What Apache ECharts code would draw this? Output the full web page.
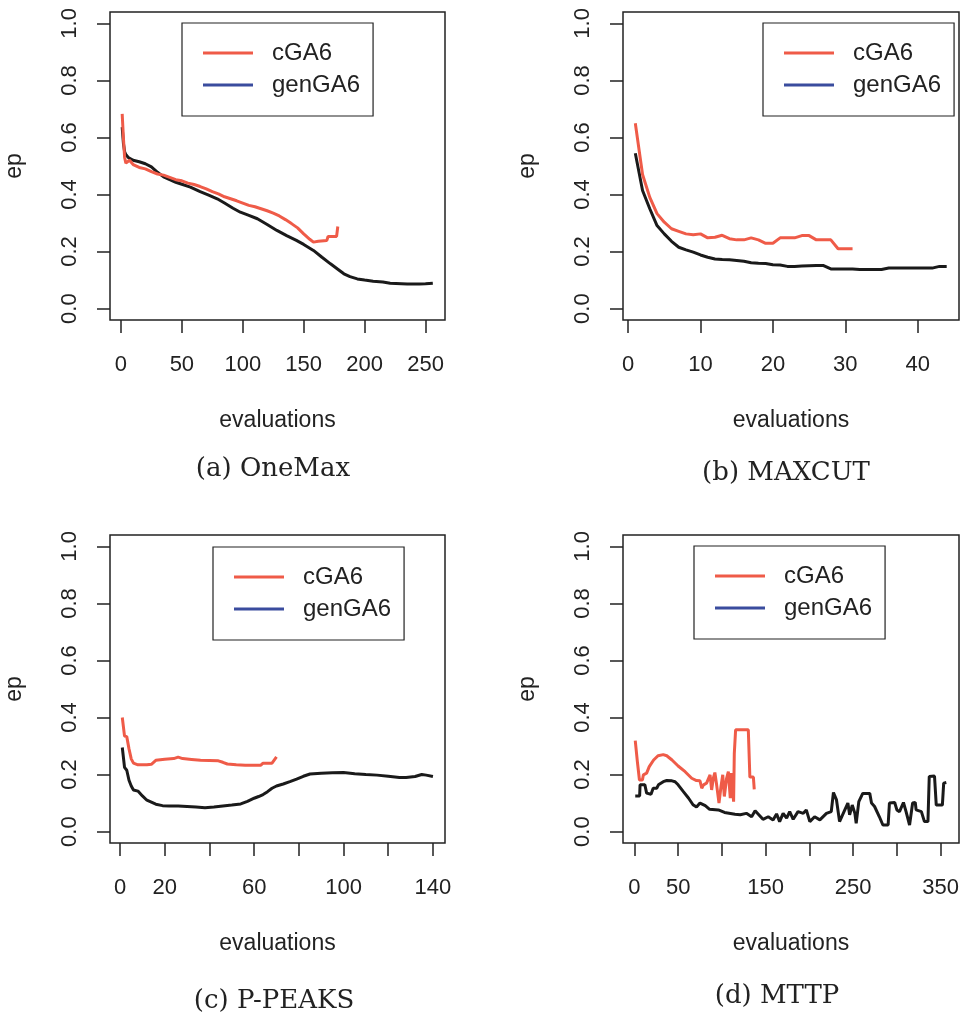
<!DOCTYPE html>
<html>
<head>
<meta charset="utf-8">
<script src="https://cdn.jsdelivr.net/npm/echarts@6/dist/echarts.min.js"></script>
<style>
  body { margin: 0; background: #fff; }
  #main { width: 962px; height: 1016px; }
</style>
</head>
<body>
<div id="main"></div>
<script>
// (a) OneMax, [evaluations, ep]
var oneMaxC = [[1,0.683],[2,0.60],[3,0.53],[4,0.51],[5,0.505],[7,0.52],[10,0.505],[15,0.495],[20,0.49],[25,0.48],[30,0.472],[35,0.468],[40,0.46],[45,0.452],[50,0.448],[55,0.44],[60,0.435],[65,0.428],[70,0.42],[75,0.41],[80,0.402],[85,0.392],[90,0.385],[95,0.378],[100,0.37],[105,0.362],[110,0.357],[115,0.35],[120,0.343],[125,0.335],[130,0.325],[135,0.312],[140,0.298],[145,0.283],[150,0.262],[155,0.243],[158,0.233],[162,0.236],[169,0.239],[170,0.253],[177,0.253],[178,0.288]];
var oneMaxGen = [[1,0.636],[2,0.58],[3,0.55],[4,0.54],[6,0.53],[10,0.52],[15,0.515],[20,0.508],[25,0.497],[30,0.478],[35,0.462],[40,0.452],[45,0.443],[50,0.436],[57,0.426],[65,0.41],[72,0.398],[79,0.385],[85,0.37],[92,0.352],[98,0.338],[105,0.327],[112,0.315],[120,0.295],[128,0.274],[136,0.256],[144,0.239],[150,0.225],[158,0.204],[165,0.18],[172,0.157],[178,0.138],[183,0.122],[188,0.112],[194,0.104],[200,0.1],[207,0.096],[215,0.093],[221,0.089],[235,0.086],[245,0.086],[250,0.087],[256,0.089]];

// (b) MAXCUT, one value per evaluation starting at 1
var maxcutC = [0.65,0.47,0.39,0.333,0.303,0.28,0.271,0.262,0.259,0.262,0.248,0.25,0.257,0.245,0.241,0.241,0.248,0.241,0.229,0.229,0.248,0.248,0.248,0.256,0.256,0.241,0.241,0.241,0.21,0.21,0.21];
var maxcutGen = [0.545,0.414,0.35,0.291,0.262,0.236,0.215,0.206,0.198,0.188,0.18,0.174,0.172,0.171,0.169,0.166,0.161,0.159,0.158,0.154,0.153,0.148,0.148,0.149,0.15,0.151,0.151,0.139,0.139,0.139,0.139,0.137,0.137,0.137,0.137,0.142,0.142,0.142,0.142,0.142,0.142,0.142,0.148,0.148];

// (c) P-PEAKS
var ppeaksC = [[1,0.40],[2,0.335],[3,0.333],[4,0.29],[5,0.255],[6,0.24],[8,0.234],[12,0.234],[14,0.236],[16,0.25],[20,0.254],[24,0.256],[26,0.261],[28,0.256],[32,0.253],[36,0.25],[40,0.249],[44,0.248],[46,0.243],[48,0.237],[52,0.234],[56,0.233],[60,0.233],[63,0.233],[64,0.24],[68,0.24],[70,0.262]];
var ppeaksGen = [[1,0.295],[2,0.225],[3,0.215],[4,0.18],[5,0.16],[6,0.146],[8,0.142],[10,0.125],[12,0.11],[14,0.103],[16,0.096],[19,0.091],[22,0.09],[26,0.09],[30,0.088],[34,0.086],[38,0.084],[42,0.086],[46,0.09],[50,0.093],[54,0.097],[57,0.106],[60,0.117],[62,0.123],[64,0.13],[66,0.14],[68,0.152],[70,0.16],[73,0.167],[76,0.175],[79,0.184],[82,0.194],[85,0.202],[90,0.205],[95,0.206],[100,0.207],[105,0.203],[110,0.2],[115,0.198],[120,0.194],[125,0.19],[128,0.19],[132,0.193],[135,0.2],[137,0.198],[140,0.193]];

// (d) MTTP
var mttpC = [[1,0.319],[2.7,0.316],[3.5,0.243],[5.4,0.24],[5.8,0.181],[9.2,0.181],[10.3,0.199],[14,0.205],[17,0.228],[22,0.251],[27,0.266],[33,0.27],[37,0.266],[43,0.251],[50,0.23],[58,0.21],[65.5,0.187],[71,0.179],[75,0.178],[77,0.152],[79,0.164],[82.5,0.17],[86.5,0.199],[88.3,0.146],[90.2,0.187],[92,0.207],[94,0.164],[96.7,0.1],[99,0.158],[101,0.199],[102.8,0.123],[105.4,0.187],[107.4,0.21],[109.6,0.117],[111,0.205],[113.4,0.105],[114.2,0.274],[115.7,0.357],[130.2,0.357],[132,0.191],[136,0.191],[137,0.148]];
var mttpGen = [[1,0.125],[6,0.125],[6.5,0.164],[12,0.164],[14,0.135],[19,0.131],[21.5,0.152],[25.5,0.152],[27.5,0.164],[33,0.175],[37,0.179],[43,0.178],[46.5,0.175],[50,0.164],[56,0.14],[62,0.117],[67,0.094],[71,0.086],[75,0.1],[81,0.091],[86,0.078],[96,0.076],[103,0.067],[115,0.061],[121,0.059],[128,0.064],[134,0.052],[138,0.073],[143.5,0.055],[147,0.043],[153,0.052],[158.5,0.041],[162.5,0.062],[166,0.035],[170,0.064],[174,0.047],[177.5,0.07],[181.5,0.043],[187,0.07],[193,0.064],[196.5,0.076],[200.5,0.035],[206,0.052],[212,0.041],[219.5,0.064],[225,0.07],[227.5,0.137],[231,0.111],[233,0.111],[234.5,0.035],[240.5,0.076],[244,0.1],[246,0.059],[249,0.093],[252,0.064],[253.5,0.029],[256.5,0.105],[261,0.134],[269,0.134],[271,0.1],[274.5,0.088],[280,0.052],[284,0.023],[290,0.023],[291.5,0.1],[297.5,0.102],[300,0.076],[303,0.07],[307.5,0.102],[310.5,0.07],[314.5,0.023],[318,0.1],[321,0.102],[322,0.076],[328,0.07],[331.5,0.035],[335.5,0.035],[337,0.193],[343,0.195],[345,0.093],[352,0.093],[353.5,0.17],[356.5,0.172]];

// tick marks / labels
var yTicks = [0, 0.2, 0.4, 0.6, 0.8, 1.0];
var xTicksA = [0, 50, 100, 150, 200, 250];
var xTicksB = [0, 10, 20, 30, 40];
var xTicksC = [0, 20, 40, 60, 80, 100, 120, 140];
var xLabelsC = [0, 20, 60, 100, 140];
var xTicksD = [0, 50, 100, 150, 200, 250, 300, 350];
var xLabelsD = [0, 50, 150, 250, 350];
var captions = ['(a) OneMax', '(b) MAXCUT', '(c) P-PEAKS', '(d) MTTP'];

var RED = '#EF5B48';
var BLUE = '#3A4C9E';
var BLACK = '#1a1a1a';
var INK = '#222';
var SANS = 'Liberation Sans, Arial, Helvetica, sans-serif';

function toPairs(arr) {
  return arr.map(function (v, i) { return [i + 1, v]; });
}

// panel boxes (pixels) and x ranges (R adds 4% on each side)
var panels = [
  { left: 110, top: 12,  width: 335, xmin: -9,   xmax: 266,   ticks: xTicksA, labels: xTicksA, c: oneMaxC, g: oneMaxGen, legend: [182, 23] },
  { left: 623, top: 12,  width: 336, xmin: -0.7, xmax: 45.7,  ticks: xTicksB, labels: xTicksB, c: toPairs(maxcutC), g: toPairs(maxcutGen), legend: [763, 23] },
  { left: 110, top: 535, width: 335, xmin: -4.5, xmax: 145.4, ticks: xTicksC, labels: xLabelsC, c: ppeaksC, g: ppeaksGen, legend: [213, 547] },
  { left: 623, top: 535, width: 336, xmin: -13,  xmax: 371,   ticks: xTicksD, labels: xLabelsD, c: mttpC, g: mttpGen, legend: [694, 546] }
];
var captionPos = [[273, 469], [786, 473], [274, 1001], [777, 996]];

var tickLine = { color: INK, width: 1.5 };

var grid = [], xAxis = [], yAxis = [], series = [], legend = [], graphic = [];
panels.forEach(function (p, i) {
  grid.push({
    left: p.left, top: p.top, width: p.width, height: 308,
    show: true, borderColor: INK, borderWidth: 1.5, backgroundColor: 'transparent'
  });
  xAxis.push({
    gridIndex: i, type: 'value', min: p.xmin, max: p.xmax,
    axisLine: { show: false, onZero: false }, splitLine: { show: false },
    axisTick: { show: true, customValues: p.ticks, length: 13, lineStyle: tickLine },
    axisLabel: { customValues: p.labels, margin: 34, fontSize: 22, fontFamily: SANS, color: INK },
    name: 'evaluations', nameLocation: 'middle', nameGap: 89,
    nameTextStyle: { fontSize: 23, fontFamily: SANS, color: INK }
  });
  yAxis.push({
    gridIndex: i, type: 'value', min: -0.04, max: 1.04,
    axisLine: { show: false, onZero: false }, splitLine: { show: false },
    axisTick: { show: true, customValues: yTicks, length: 13, lineStyle: tickLine },
    axisLabel: {
      customValues: yTicks, rotate: 90, margin: 29, fontSize: 22, fontFamily: SANS, color: INK,
      formatter: function (v) { return v.toFixed(1); }
    },
    name: 'ep', nameLocation: 'middle', nameGap: 84,
    nameTextStyle: { fontSize: 23, fontFamily: SANS, color: INK }
  });
  series.push({
    name: 'cGA6', type: 'line', xAxisIndex: i, yAxisIndex: i, data: p.c,
    showSymbol: false, symbol: 'none', lineStyle: { color: RED, width: 3 }, itemStyle: { color: RED }, z: 3
  });
  series.push({
    name: 'genGA6', type: 'line', xAxisIndex: i, yAxisIndex: i, data: p.g,
    showSymbol: false, symbol: 'none', lineStyle: { color: BLACK, width: 3 }, itemStyle: { color: BLACK }, z: 2
  });
  legend.push({
    left: p.legend[0], top: p.legend[1], orient: 'vertical', selectedMode: false,
    icon: 'rect', itemWidth: 50, itemHeight: 3, itemGap: 8,
    padding: [18, 13, 19, 21], borderColor: INK, borderWidth: 1.2, backgroundColor: '#fff',
    textStyle: { fontSize: 24, fontFamily: SANS, color: INK, padding: [0, 0, 0, 14] },
    data: [
      { name: 'cGA6', itemStyle: { color: RED } },
      { name: 'genGA6', itemStyle: { color: BLUE } }
    ]
  });
  graphic.push({
    type: 'text', x: captionPos[i][0], y: captionPos[i][1],
    style: {
      text: captions[i], font: '26px "DejaVu Serif", serif', fill: INK,
      textAlign: 'center', textVerticalAlign: 'middle', align: 'center', verticalAlign: 'middle'
    }
  });
});

var chart = echarts.init(document.getElementById('main'));
chart.setOption({
  animation: false,
  backgroundColor: '#fff',
  grid: grid,
  xAxis: xAxis,
  yAxis: yAxis,
  legend: legend,
  graphic: graphic,
  series: series
});
</script>
</body>
</html>
